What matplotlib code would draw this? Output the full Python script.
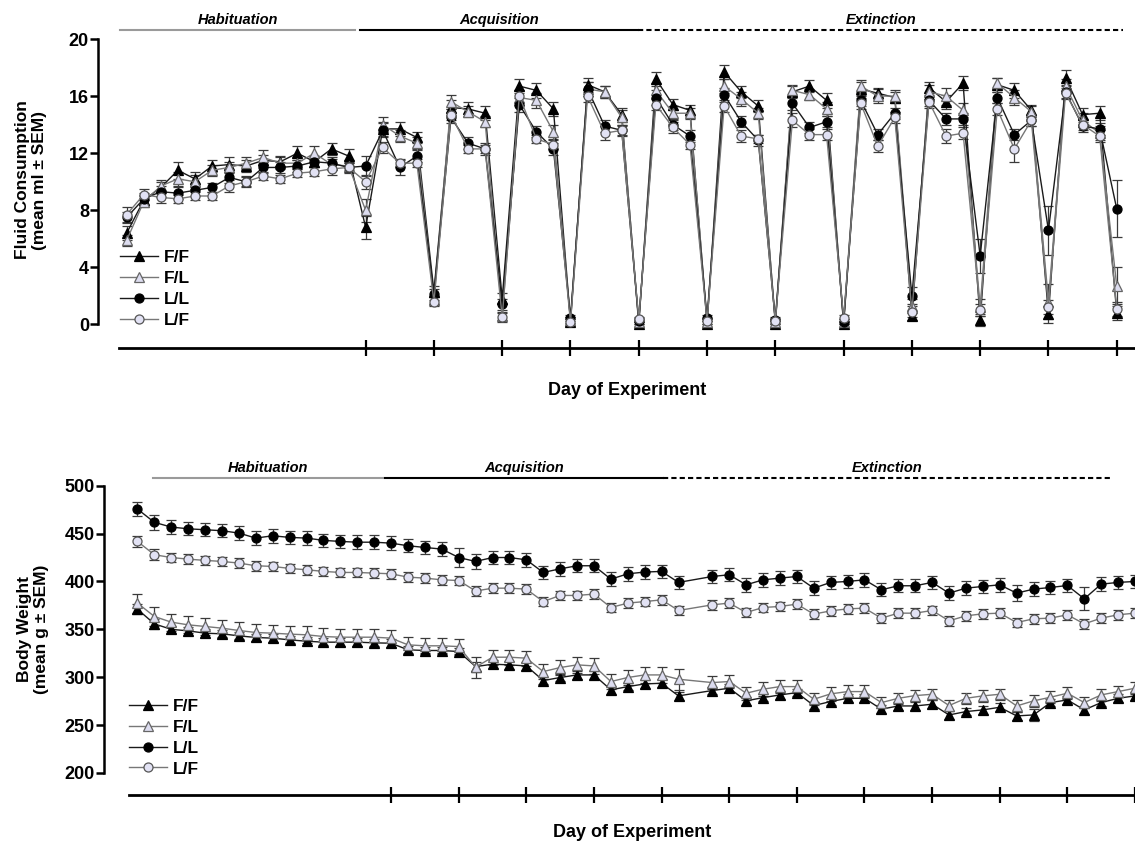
import matplotlib
matplotlib.use("Agg")
import matplotlib.pyplot as plt
from matplotlib.lines import Line2D

plt.rcParams['font.family'] = ['Liberation Sans', 'DejaVu Sans']
plt.rcParams['font.weight'] = 'bold'

groups = ["F/F", "F/L", "L/L", "L/F"]

# ---- fluid consumption (ml), days 1-59 ----
fluid_days = list(range(1, 60))
fluid_ff = [6.4, 8.7, 9.6, 10.8, 10.2, 11.1, 11.2, 11.1, 11.5, 11.4, 12.0, 11.4, 12.3, 11.8,
            6.8, 13.7, 13.7, 13.1, 2.3, 15.2, 15.1, 14.8, 1.8, 16.7, 16.4, 15.1,
            0.2, 16.8, 16.3, 14.7, 0.0, 17.2, 15.4, 15.0, 0.05, 17.7, 16.3, 15.3,
            0.05, 16.3, 16.7, 15.7, 0.0, 16.5, 16.2, 15.9, 0.6, 16.6, 15.6, 16.9,
            0.3, 16.8, 16.4, 15.0, 0.7, 17.3, 14.7, 14.8, 0.8]
fluid_fl = [5.9, 8.6, 9.7, 10.2, 10.0, 10.8, 11.0, 11.3, 11.7, 11.3, 11.3, 12.0, 11.2, 11.1,
            8.0, 14.0, 13.2, 12.7, 1.7, 15.6, 14.9, 14.2, 0.6, 15.9, 15.7, 13.5,
            0.3, 16.5, 16.3, 14.5, 0.2, 16.4, 14.8, 14.8, 0.2, 16.7, 15.8, 14.8,
            0.2, 16.4, 16.1, 15.1, 0.2, 16.7, 16.0, 16.0, 1.3, 16.3, 16.0, 15.0,
            1.2, 16.9, 15.9, 14.9, 1.6, 16.7, 14.3, 13.4, 2.7]
fluid_ll = [7.5, 8.8, 9.3, 9.2, 9.4, 9.6, 10.3, 10.0, 11.0, 11.0, 11.1, 11.4, 11.3, 11.0,
            11.1, 13.6, 11.0, 11.8, 2.1, 14.5, 12.7, 12.3, 1.4, 15.4, 13.5, 12.3,
            0.45, 16.5, 13.9, 13.6, 0.25, 15.9, 14.0, 13.2, 0.45, 16.1, 14.2, 12.9,
            0.3, 15.5, 13.8, 14.2, 0.2, 15.7, 13.3, 14.8, 2.0, 15.7, 14.4, 14.4,
            4.8, 15.9, 13.3, 14.3, 6.6, 16.3, 13.9, 13.7, 8.1]
fluid_lf = [7.7, 9.1, 8.9, 8.8, 9.0, 9.0, 9.7, 10.0, 10.4, 10.2, 10.6, 10.7, 10.9, 11.0,
            10.0, 12.4, 11.3, 11.3, 1.6, 14.7, 12.3, 12.3, 0.5, 16.0, 13.0, 12.6,
            0.15, 16.0, 13.4, 13.6, 0.35, 15.4, 13.8, 12.6, 0.25, 15.3, 13.2, 13.0,
            0.25, 14.3, 13.3, 13.3, 0.45, 15.5, 12.5, 14.5, 0.9, 15.6, 13.2, 13.4,
            1.0, 15.1, 12.3, 14.3, 1.2, 16.2, 14.0, 13.2, 1.1]

fluid_ff_sem = [0.5, 0.4, 0.4, 0.6, 0.5, 0.4, 0.5, 0.4, 0.4, 0.4, 0.5, 0.4, 0.4, 0.5,
                0.8, 0.5, 0.5, 0.4, 0.4, 0.5, 0.5, 0.5, 0.4, 0.5, 0.5, 0.5,
                0.3, 0.5, 0.4, 0.5, 0.2, 0.5, 0.4, 0.4, 0.2, 0.5, 0.4, 0.4,
                0.2, 0.4, 0.4, 0.5, 0.2, 0.5, 0.4, 0.4, 0.3, 0.4, 0.5, 0.5,
                0.4, 0.5, 0.5, 0.4, 0.6, 0.5, 0.5, 0.5, 0.5]
fluid_fl_sem = [0.4, 0.4, 0.4, 0.5, 0.5, 0.4, 0.4, 0.4, 0.5, 0.4, 0.4, 0.5, 0.4, 0.4,
                0.8, 0.5, 0.4, 0.4, 0.3, 0.5, 0.4, 0.4, 0.3, 0.5, 0.5, 0.5,
                0.2, 0.5, 0.4, 0.5, 0.2, 0.5, 0.5, 0.4, 0.2, 0.5, 0.5, 0.4,
                0.2, 0.4, 0.4, 0.5, 0.2, 0.4, 0.5, 0.4, 0.5, 0.5, 0.6, 0.5,
                0.6, 0.4, 0.5, 0.4, 1.2, 0.5, 0.5, 0.5, 1.3]
fluid_ll_sem = [0.4, 0.4, 0.4, 0.4, 0.4, 0.3, 0.4, 0.4, 0.4, 0.4, 0.4, 0.4, 0.4, 0.4,
                0.7, 0.5, 0.5, 0.4, 0.4, 0.4, 0.4, 0.4, 0.4, 0.5, 0.4, 0.4,
                0.2, 0.5, 0.4, 0.4, 0.2, 0.5, 0.4, 0.4, 0.2, 0.5, 0.4, 0.4,
                0.2, 0.5, 0.4, 0.4, 0.2, 0.4, 0.4, 0.4, 0.6, 0.4, 0.4, 0.4,
                1.2, 0.4, 0.4, 0.4, 1.7, 0.4, 0.4, 0.4, 2.0]
fluid_lf_sem = [0.5, 0.4, 0.4, 0.3, 0.3, 0.3, 0.4, 0.3, 0.3, 0.3, 0.3, 0.3, 0.4, 0.3,
                0.5, 0.4, 0.3, 0.3, 0.3, 0.4, 0.3, 0.3, 0.3, 0.4, 0.3, 0.3,
                0.2, 0.4, 0.5, 0.3, 0.2, 0.4, 0.4, 0.3, 0.2, 0.4, 0.4, 0.3,
                0.2, 0.5, 0.4, 0.4, 0.2, 0.4, 0.4, 0.4, 0.4, 0.4, 0.5, 0.4,
                0.4, 0.4, 0.9, 0.4, 0.5, 0.4, 0.4, 0.4, 0.5]

# ---- body weight (g), days 1-60, no weighing on day 34 ----
bw_days = [d for d in range(1, 61) if d != 34]
bw_ff = [371.0, 355.7, 350.0, 348.4, 346.0, 345.3, 343.2, 341.5, 340.8, 339.0, 337.6, 336.6, 336.6, 336.6, 335.9, 335.5,
         328.6, 327.9, 327.9, 326.8, 311.1, 313.6, 312.9, 311.8, 296.5, 299.7, 302.4, 302.4, 286.8, 290.2, 293.0, 293.7, 280.5,
         286.1, 288.5, 275.3, 278.7, 281.5, 283.9, 270.4, 274.6, 278.0, 278.0, 266.6, 270.0, 270.0, 271.8, 260.6, 264.1,
         265.9, 268.6, 259.6, 260.6, 273.5, 276.3, 265.9, 273.5, 278.0, 280.5]
bw_fl = [377.4, 363.4, 357.5, 354.7, 353.0, 351.2, 348.8, 346.7, 346.0, 345.0, 344.3, 342.5, 341.8, 341.8, 341.8, 340.8,
         333.8, 332.8, 332.8, 332.0, 310.5, 320.9, 320.9, 319.9, 305.9, 310.1, 312.9, 311.8, 295.5, 299.7, 302.4, 302.4, 297.9,
         294.4, 295.5, 283.3, 287.5, 290.2, 290.2, 277.0, 282.6, 285.0, 285.0, 273.5, 278.0, 280.8, 282.2, 270.4, 278.0,
         280.5, 282.2, 270.0, 275.3, 279.1, 283.3, 273.5, 281.5, 285.0, 288.5]
bw_ll = [475.6, 461.7, 456.8, 455.0, 454.0, 453.0, 450.5, 445.3, 447.7, 446.0, 445.3, 442.9, 441.8, 441.0, 441.0, 440.0,
         437.3, 435.5, 433.8, 425.0, 420.9, 425.0, 425.0, 422.6, 409.4, 413.2, 416.4, 416.4, 402.4, 408.0, 409.8, 410.5, 399.0,
         405.2, 407.0, 396.5, 401.7, 403.5, 405.2, 393.0, 399.0, 400.0, 401.7, 391.3, 395.5, 395.5, 399.0, 387.8, 393.0,
         394.8, 396.5, 387.8, 392.0, 393.7, 395.8, 381.9, 397.2, 399.0, 400.0]
bw_lf = [441.8, 427.9, 425.0, 423.3, 422.0, 420.9, 419.2, 416.4, 415.7, 413.6, 412.2, 410.5, 409.4, 409.4, 408.7, 408.0,
         404.5, 403.5, 401.7, 401.0, 390.0, 393.0, 393.0, 392.0, 379.0, 385.4, 385.4, 386.8, 372.8, 377.4, 379.0, 380.8, 369.7,
         375.6, 377.4, 367.6, 372.8, 373.9, 376.3, 365.9, 369.3, 371.4, 372.1, 361.7, 366.9, 366.9, 369.7, 358.9, 364.1,
         366.2, 366.9, 357.1, 361.0, 361.7, 365.2, 355.7, 361.7, 365.2, 366.9]

bw_ff_sem = [5, 5, 4, 4, 4, 4, 4, 4, 4, 4, 4, 4, 4, 4, 4, 4,
             4, 4, 4, 4, 5, 4, 4, 4, 4, 4, 4, 4, 4, 4, 4, 4, 4,
             4, 4, 4, 4, 4, 4, 4, 4, 4, 4, 4, 4, 4, 4, 4, 4,
             4, 4, 4, 6, 4, 4, 4, 4, 4, 4]
bw_fl_sem = [10, 10, 9, 9, 9, 9, 9, 9, 9, 9, 9, 9, 9, 9, 9, 9,
             8, 8, 8, 8, 11, 8, 8, 8, 8, 8, 8, 8, 8, 8, 8, 8, 11,
             7, 7, 7, 7, 7, 7, 6, 7, 7, 7, 6, 6, 6, 6, 6, 6,
             6, 6, 6, 6, 6, 6, 6, 6, 6, 6]
bw_ll_sem = [7.5, 7.5, 7, 7, 7, 7, 7.5, 7, 7.5, 7, 7, 7, 7, 7, 7, 7,
             7, 7, 7, 10, 7.5, 7, 7, 7, 7, 7, 7, 7, 7, 7, 7, 7, 7,
             7, 7, 7, 7, 7, 7, 7, 7, 7, 7, 7, 7, 7, 7, 7, 7,
             7, 7, 8, 7, 7, 7, 12, 7, 7, 7]
bw_lf_sem = [6, 5.5, 5, 5, 5, 5, 5, 5, 5, 5, 5, 5, 5, 5, 5, 5,
             5, 5, 5, 5, 5, 5, 5, 5, 5, 5, 5, 5, 5, 5, 5, 5, 5,
             5, 5, 5, 5, 5, 5, 5, 5, 5, 5, 5, 5, 5, 5, 5, 5,
             5, 5, 5, 5, 5, 5, 5, 5, 5, 5]

styles = {
    "F/F": dict(marker="^", mfc="black", mec="black", color="#1a1a1a", ms=7),
    "F/L": dict(marker="^", mfc="#dcdcef", mec="#666666", color="#777777", ms=7),
    "L/L": dict(marker="o", mfc="black", mec="black", color="#1a1a1a", ms=6.5),
    "L/F": dict(marker="o", mfc="#e2e2f4", mec="#555555", color="#777777", ms=6.5),
}


def draw_panel(ax, days, means, sems, yticks, ylim, xlim, xticks, spine_start,
               phases, phase_y, text_y, legend_anchor):
    for g in groups:
        st = styles[g]
        ax.errorbar(days, means[g], yerr=sems[g], color=st["color"], lw=1.0,
                    marker=st["marker"], ms=st["ms"], mfc=st["mfc"], mec=st["mec"],
                    mew=0.9, ecolor="#3a3a3a", elinewidth=0.9, capsize=3.5,
                    capthick=0.9)

    ax.set_xlim(*xlim)
    ax.set_ylim(*ylim)
    ax.spines['top'].set_visible(False)
    ax.spines['right'].set_visible(False)
    ax.spines['left'].set_linewidth(1.8)
    ax.spines['bottom'].set_linewidth(2.0)
    ax.spines['left'].set_bounds(yticks[0], yticks[-1])
    ax.spines['bottom'].set_bounds(spine_start, xlim[1])

    ax.set_yticks(yticks)
    ax.set_yticklabels([str(t) for t in yticks], fontsize=13, fontweight='bold')
    ax.tick_params(axis='y', direction='out', length=5.5, width=1.8, pad=1)
    ax.set_xticks(xticks)
    ax.set_xticklabels([])
    ax.tick_params(axis='x', direction='inout', length=11, width=1.6)

    # phase bars above the data
    for name, x0, x1, col, ls in phases:
        ax.plot([x0, x1], [phase_y, phase_y], color=col, ls=ls, lw=1.5,
                clip_on=False)
        ax.text((x0 + x1) / 2, text_y, name, ha='center', va='center',
                fontsize=10.5, fontweight='bold', fontstyle='italic',
                clip_on=False)

    handles = [Line2D([], [], color=styles[g]["color"], lw=1.0,
                      marker=styles[g]["marker"], ms=styles[g]["ms"],
                      mfc=styles[g]["mfc"], mec=styles[g]["mec"], mew=0.9)
               for g in groups]
    ax.legend(handles, groups, loc='upper left', bbox_to_anchor=legend_anchor,
              bbox_transform=ax.transData, frameon=False, fontsize=12.5,
              handlelength=2.2, handletextpad=0.3, labelspacing=0.33,
              borderpad=0, borderaxespad=0)


W, H = 1135, 847
fig = plt.figure(figsize=(W / 100, H / 100), dpi=100)

# top panel: fluid consumption
ax1 = fig.add_axes([98 / W, 1 - 348 / H, (W - 98) / W, (348 - 39) / H])
draw_panel(ax1, fluid_days,
           {"F/F": fluid_ff, "F/L": fluid_fl, "L/L": fluid_ll, "L/F": fluid_lf},
           {"F/F": fluid_ff_sem, "F/L": fluid_fl_sem, "L/L": fluid_ll_sem, "L/F": fluid_lf_sem},
           yticks=[0, 4, 8, 12, 16, 20], ylim=(-1.65, 20), xlim=(-0.68, 60.07),
           xticks=list(range(15, 60, 4)), spine_start=0.55,
           phases=[("Habituation", 0.61, 14.37, "#9a9a9a", "-"),
                   ("Acquisition", 14.67, 30.96, "black", "-"),
                   ("Extinction", 30.96, 59.37, "black", (0, (2.5, 1.5)))],
           phase_y=20.63, text_y=21.33, legend_anchor=(0.61, 5.2))

# bottom panel: body weight
ax2 = fig.add_axes([104 / W, 1 - 795 / H, (W - 104) / W, (795 - 485.7) / H])
draw_panel(ax2, bw_days,
           {"F/F": bw_ff, "F/L": bw_fl, "L/L": bw_ll, "L/F": bw_lf},
           {"F/F": bw_ff_sem, "F/L": bw_fl_sem, "L/L": bw_ll_sem, "L/F": bw_lf_sem},
           yticks=[200, 250, 300, 350, 400, 450, 500], ylim=(177.0, 500),
           xlim=(-0.98, 60.0), xticks=list(range(16, 61, 4)), spine_start=0.5,
           phases=[("Habituation", 1.92, 15.52, "#9a9a9a", "-"),
                   ("Acquisition", 15.64, 32.08, "black", "-"),
                   ("Extinction", 32.08, 58.63, "black", (0, (2.5, 1.5)))],
           phase_y=508, text_y=518.5, legend_anchor=(0.5, 277.5))

fig.text(31 / W, 1 - 180 / H, "Fluid Consumption\n(mean ml ± SEM)", rotation=90,
         ha='center', va='center', fontsize=12.5, fontweight='bold',
         multialignment='center')
fig.text(33 / W, 1 - 629 / H, "Body Weight\n(mean g ± SEM)", rotation=90,
         ha='center', va='center', fontsize=12.5, fontweight='bold',
         multialignment='center')
fig.text(627 / W, 1 - 390 / H, "Day of Experiment", ha='center', va='center',
         fontsize=13, fontweight='bold')
fig.text(632 / W, 1 - 832 / H, "Day of Experiment", ha='center', va='center',
         fontsize=13, fontweight='bold')

fig.savefig("out.png", dpi=100)
